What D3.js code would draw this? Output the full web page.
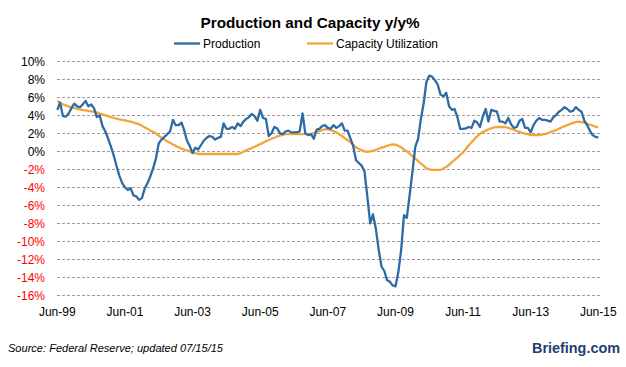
<!DOCTYPE html>
<html>
<head>
<meta charset="utf-8">
<script src="https://cdn.jsdelivr.net/npm/d3@7"></script>
<style>
  body { margin: 0; background: #fff; }
  svg text { font-family: "Liberation Sans", Arial, sans-serif; }
</style>
</head>
<body>
<div id="chart"></div>
<script>
// monthly y/y %, Jun-99 .. Jun-15
var startMonth = "1999-06";
var production = [
  4.6, 5.4, 3.9, 3.85, 4.2, 4.8, 5.3, 5.0, 4.9, 5.2, 5.6,
  5.0, 5.2, 4.8, 3.8, 4.0, 2.8, 2.2, 1.4, 0.5, -0.5,
  -1.6, -2.7, -3.5, -4.0, -4.3, -4.1, -4.9, -5.0, -5.4, -5.2,
  -4.1, -3.5, -2.8, -1.9, -0.8, 0.9, 1.3, 1.6, 1.9, 2.2,
  3.5, 2.9, 2.9, 3.2, 2.4, 1.2, 0.6, -0.2, 0.4, 0.2,
  0.7, 1.2, 1.5, 1.7, 1.6, 1.3, 1.5, 1.6, 3.1, 2.5,
  2.5, 2.7, 2.5, 3.1, 2.8, 3.3, 3.6, 3.8, 4.15, 3.9,
  3.4, 4.6, 3.7, 3.6, 1.7, 2.0, 2.7, 2.55, 2.0, 1.9,
  2.2, 2.3, 2.1, 2.1, 2.1, 2.2, 4.2, 2.0, 1.8, 1.9,
  1.4, 2.4, 2.5, 2.8, 2.9, 2.6, 2.5, 2.9, 2.6, 2.8,
  3.1, 2.3, 2.3, 1.4, 0.6, -1.0, -1.3, -1.6, -2.2, -5.0,
  -8.0, -7.0, -8.6, -10.9, -12.8, -13.3, -14.3, -14.5, -14.9, -15.0,
  -13.5, -11.0, -7.1, -7.4, -4.9, -2.3, 0.5, 1.4, 3.5, 5.3,
  7.7, 8.4, 8.3, 7.9, 7.4, 6.3, 6.1, 6.5, 5.0, 4.6,
  4.7, 3.8, 2.5, 2.5, 2.55, 2.7, 2.6, 3.4, 3.2, 2.7,
  3.9, 4.7, 3.3, 4.6, 4.5, 4.4, 3.3, 3.3, 3.1, 3.7,
  3.0, 2.6, 2.7, 3.4, 3.6, 2.6, 2.6, 2.1, 2.9, 3.4,
  3.7, 3.5, 3.5, 3.4, 3.3, 3.8, 4.0, 4.4, 4.6, 4.9,
  4.7, 4.4, 4.5, 4.9, 4.6, 4.4, 3.4, 2.9, 2.3, 1.8,
  1.6, 1.55
];
var capacity = [
  5.6, 5.4, 5.2, 5.1, 5.0, 4.85, 4.8, 4.72, 4.67, 4.6, 4.55,
  4.48, 4.43, 4.38, 4.33, 4.2, 4.1, 4.0, 3.9, 3.8, 3.7,
  3.63, 3.56, 3.5, 3.43, 3.36, 3.3, 3.2, 3.1, 3.0, 2.85,
  2.65, 2.5, 2.3, 2.15, 2.0, 1.75, 1.5, 1.3, 1.1, 0.95,
  0.75, 0.6, 0.45, 0.3, 0.2, 0.1, 0.0, -0.15, -0.2, -0.3,
  -0.3, -0.3, -0.3, -0.3, -0.3, -0.3, -0.3, -0.3, -0.3, -0.3,
  -0.3, -0.3, -0.3, -0.3, -0.2, -0.05, 0.1, 0.25, 0.35, 0.5,
  0.65, 0.8, 0.95, 1.1, 1.25, 1.4, 1.5, 1.65, 1.75, 1.85,
  1.9, 1.9, 1.9, 1.9, 1.9, 1.9, 1.9, 1.9, 1.9, 1.9,
  2.05, 2.15, 2.25, 2.35, 2.45, 2.45, 2.35, 2.25, 2.1, 1.9,
  1.7, 1.45, 1.25, 1.0, 0.7, 0.45, 0.25, 0.1, 0.0, -0.05,
  0.0, 0.05, 0.15, 0.3, 0.4, 0.5, 0.6, 0.7, 0.78, 0.75,
  0.6, 0.45, 0.2, 0.0, -0.25, -0.55, -0.8, -1.1, -1.35, -1.6,
  -1.9, -2.0, -2.07, -2.07, -2.07, -2.07, -1.9, -1.75, -1.5, -1.2,
  -0.95, -0.7, -0.4, -0.15, 0.25, 0.65, 1.0, 1.35, 1.65, 1.95,
  2.15, 2.3, 2.45, 2.55, 2.65, 2.7, 2.7, 2.7, 2.7, 2.6,
  2.5, 2.4, 2.25, 2.15, 2.05, 1.95, 1.9, 1.8, 1.8, 1.8,
  1.8, 1.85, 1.9, 2.0, 2.15, 2.25, 2.35, 2.5, 2.65, 2.8,
  2.9, 3.05, 3.15, 3.25, 3.3, 3.25, 3.2, 3.05, 2.95, 2.85,
  2.75, 2.67
];
var yTicks = [10, 8, 6, 4, 2, 0, -2, -4, -6, -8, -10, -12, -14, -16];
var xTickLabels = ["Jun-99", "Jun-01", "Jun-03", "Jun-05", "Jun-07", "Jun-09", "Jun-11", "Jun-13", "Jun-15"];
var seriesNames = ["Production", "Capacity Utilization"];
var colors = ["#2e6aa3", "#f1a63b"];

var width = 626, height = 367;
var svg = d3.select("#chart").append("svg")
    .attr("width", width)
    .attr("height", height);

var parseMonth = d3.timeParse("%Y-%m");
var t0 = parseMonth(startMonth);
var dates = production.map(function(d, i){ return d3.timeMonth.offset(t0, i); });

var x = d3.scaleTime()
    .domain([dates[0], dates[dates.length - 1]])
    .range([57.3, 598.3]);
var y = d3.scaleLinear()
    .domain([-16, 10])
    .range([295.3, 61.3]);

// gridlines
svg.append("g").selectAll("line")
    .data(yTicks).enter().append("line")
    .attr("x1", 57).attr("x2", 601)
    .attr("y1", function(d){ return Math.round(y(d)) + 0.5; })
    .attr("y2", function(d){ return Math.round(y(d)) + 0.5; })
    .attr("stroke", "#a09aa6")
    .attr("stroke-width", 1)
    .attr("stroke-dasharray", "3,2");

// y labels
svg.append("g").selectAll("text")
    .data(yTicks).enter().append("text")
    .attr("x", 45)
    .attr("y", function(d){ return y(d) + 4.5; })
    .attr("text-anchor", "end")
    .attr("font-size", 12)
    .attr("fill", function(d){ return d < 0 ? "#ff0000" : "#000"; })
    .text(function(d){ return d + "%"; });

// x labels
var xTickDates = xTickLabels.map(function(d, i){ return d3.timeMonth.offset(t0, i * 24); });
var xFmt = d3.timeFormat("%b-%y");
svg.append("g").selectAll("text")
    .data(xTickDates).enter().append("text")
    .attr("x", function(d){ return x(d); })
    .attr("y", 316)
    .attr("text-anchor", "middle")
    .attr("font-size", 12)
    .attr("fill", "#000")
    .text(function(d){ return xFmt(d); });

// lines
var line = d3.line()
    .x(function(d, i){ return x(dates[i]); })
    .y(function(d){ return y(d); });

[capacity, production].forEach(function(s, k){
    svg.append("path")
        .datum(s)
        .attr("d", line)
        .attr("fill", "none")
        .attr("stroke", k == 0 ? colors[1] : colors[0])
        .attr("stroke-width", 2.3)
        .attr("stroke-linejoin", "round");
});

// title
svg.append("text")
    .attr("x", 310).attr("y", 28)
    .attr("text-anchor", "middle")
    .attr("font-size", 15)
    .attr("font-weight", "bold")
    .attr("textLength", 219)
    .attr("lengthAdjust", "spacingAndGlyphs")
    .text("Production and  Capacity y/y%");

// legend
var legendX = [174, 307];
seriesNames.forEach(function(name, i){
    svg.append("line")
        .attr("x1", legendX[i]).attr("x2", legendX[i] + 26)
        .attr("y1", 43.5).attr("y2", 43.5)
        .attr("stroke", colors[i])
        .attr("stroke-width", 2.3);
    svg.append("text")
        .attr("x", legendX[i] + 29).attr("y", 48)
        .attr("font-size", 12)
        .attr("fill", "#000")
        .text(name);
});

// footer
svg.append("text")
    .attr("x", 8).attr("y", 352)
    .attr("font-size", 11)
    .attr("font-style", "italic")
    .attr("textLength", 215)
    .attr("lengthAdjust", "spacingAndGlyphs")
    .text("Source: Federal Reserve; updated 07/15/15");

svg.append("text")
    .attr("x", 532).attr("y", 353)
    .attr("font-size", 15)
    .attr("font-weight", "bold")
    .attr("fill", "#1d3f72")
    .attr("textLength", 88)
    .attr("lengthAdjust", "spacingAndGlyphs")
    .text("Briefing.com");
</script>
</body>
</html>
